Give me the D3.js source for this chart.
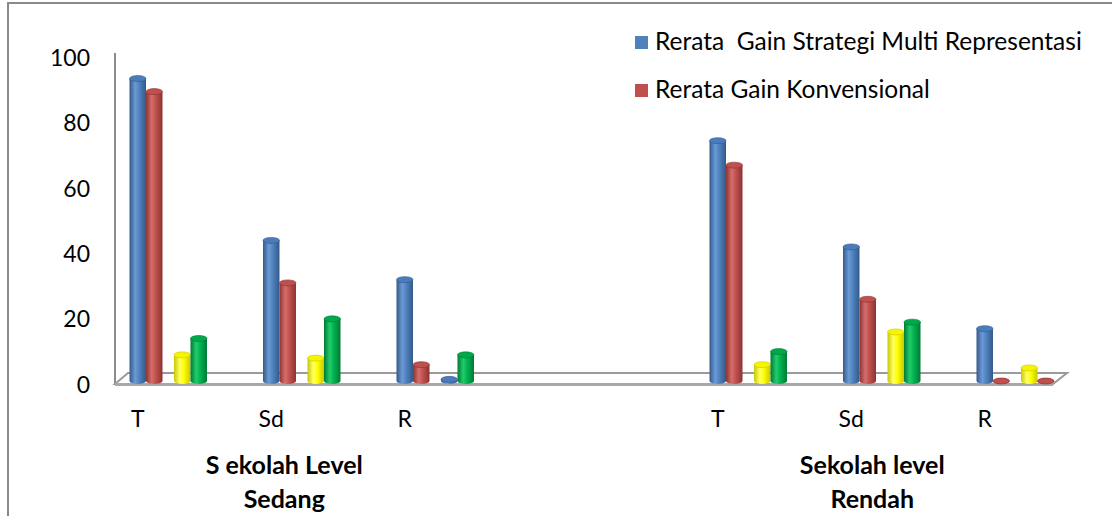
<!DOCTYPE html>
<html><head><meta charset="utf-8">
<script src="https://cdn.jsdelivr.net/npm/d3@7/dist/d3.min.js"></script>
<style>
html,body{margin:0;padding:0;background:#fff;}
svg{display:block;font-family:Lato,"Open Sans",sans-serif;}
text{white-space:pre;}
</style></head>
<body><svg id="c" width="1112" height="516"></svg>
<script>
// ---- data ----
const groups = [["S ekolah Level","Sedang"],["Sekolah level","Rendah"]];
const categories = ["T","Sd","R"];
const seriesNames = ["Rerata  Gain Strategi Multi Representasi","Rerata Gain Konvensional","Seri 3","Seri 4"];
// values per point: group1 T, Sd, R, group2 T, Sd, R
const blueVals   = [92.5, 43, 31, 73.5, 41, 16];
const redVals    = [88.5, 30, 5, 66, 25, 0];
const yellowVals = [8, 7, 0.5, 5, 15, 4];
const greenVals  = [13, 19, 8, 9, 18, 0];
const yTicks = [0,20,40,60,80,100];

// ---- styles / layout ----
const seriesVals = [blueVals, redVals, yellowVals, greenVals];
const palette = {
  blue:  {base:"#4F81BD", dark:"#34598a", light:"#6b9bd6", top:"#4a7cbc"},
  red:   {base:"#C0504D", dark:"#8c3331", light:"#d66e6b", top:"#c0504d"},
  yellow:{base:"#FFFF00", dark:"#c8c800", light:"#ffff66", top:"#f5f500"},
  green: {base:"#00B050", dark:"#007a36", light:"#22cc6a", top:"#00a84c"}
};
const seriesColor = ["blue","red","yellow","green"];
// per-point colour overrides seen in the original (pointIndex-seriesIndex)
const colorOverride = {"2-2":"blue", "5-3":"red"};
const slotOffset = [0, 16.5, 44.5, 61];
const groupLabelShift = [13, 21];
const barW = 16.5;
const depth = 3;

const svg = d3.select("#c");
const defs = svg.append("defs");
Object.entries(palette).forEach(([k,c])=>{
  const g = defs.append("linearGradient").attr("id","g-"+k).attr("x1","0").attr("x2","1").attr("y1","0").attr("y2","0");
  g.append("stop").attr("offset","0%").attr("stop-color",c.dark);
  g.append("stop").attr("offset","35%").attr("stop-color",c.light);
  g.append("stop").attr("offset","60%").attr("stop-color",c.base);
  g.append("stop").attr("offset","100%").attr("stop-color",c.dark);
});

// border
svg.append("path").attr("d","M8,516 L8,3 L1112,3").attr("fill","none").attr("stroke","#8a8a8a").attr("stroke-width",2);

// scales
const y = d3.scaleLinear().domain([0,100]).range([384,57]);
const gx = d3.scaleBand().domain(d3.range(groups.length)).range([71,1051.5]).paddingInner(0.3095).paddingOuter(0);
const cx = d3.scaleBand().domain(categories).range([0,gx.bandwidth()]);
const catCenter = (gi,c)=> gx(gi) + cx(c) + cx.bandwidth()/2;

// floor & axis line
svg.append("line").attr("x1",115).attr("x2",115).attr("y1",53).attr("y2",384).attr("stroke","#8c8c8c").attr("stroke-width",2);
svg.append("path").attr("d","M115,384 L1053,384 L1067,373 L128,373 Z")
  .attr("fill","none").attr("stroke","#9a9a9a").attr("stroke-width",2);
svg.append("line").attr("x1",115).attr("x2",1053).attr("y1",384.5).attr("y2",384.5).attr("stroke","#a8a8a8").attr("stroke-width",3);

// y axis labels
const ax = svg.append("g").attr("transform","translate(90,1)")
  .call(d3.axisLeft(y).tickValues(yTicks).tickSize(0).tickPadding(0));
ax.select(".domain").remove();
ax.selectAll("text").attr("font-size",23).attr("font-family","Lato, sans-serif").attr("fill","#000");

// bars
const points = [];
groups.forEach((g,gi)=>categories.forEach((c,ci)=>{
  const pi = gi*categories.length+ci;
  seriesVals.forEach((vals,si)=>{
    points.push({gi,ci,c,si,v:vals[pi],col:colorOverride[pi+"-"+si]||seriesColor[si]});
  });
}));
const bars = svg.append("g");
points.forEach(p=>{
  const x0 = catCenter(p.gi,p.c) + slotOffset[p.si] - barW/2;
  const yb = y(0) - depth;
  const yt = y(p.v) - depth;
  const pc = palette[p.col];
  const g = bars.append("g");
  const ry = 3;
  if (yb - yt > 0.5) {
    g.append("path")
      .attr("d",`M${x0},${yt} L${x0},${yb} A${barW/2},${ry} 0 0 0 ${x0+barW},${yb} L${x0+barW},${yt} Z`)
      .attr("fill",`url(#g-${p.col})`);
  } else {
    g.append("ellipse").attr("cx",x0+barW/2).attr("cy",yb).attr("rx",barW/2).attr("ry",ry)
      .attr("fill",pc.dark);
  }
  g.append("ellipse").attr("cx",x0+barW/2).attr("cy",yt).attr("rx",barW/2).attr("ry",ry)
    .attr("fill",pc.top).attr("stroke",pc.dark).attr("stroke-width",0.6);
});

// category labels
groups.forEach((g,gi)=>categories.forEach(c=>{
  svg.append("text").attr("x",catCenter(gi,c)).attr("y",427).attr("text-anchor","middle")
    .attr("font-size",23).attr("fill","#000").text(c);
}));
// group labels
groups.forEach((g,gi)=>{
  const cxm = gx(gi)+gx.bandwidth()/2 + groupLabelShift[gi];
  g.forEach((line,li)=>{
    svg.append("text").attr("x",cxm).attr("y",474+li*34).attr("text-anchor","middle")
      .attr("font-size",25).attr("font-weight","bold").attr("fill","#000").text(line);
  });
});

// legend (first two series only)
[0,1].forEach((si,i)=>{
  const ly = 36 + i*48;
  svg.append("rect").attr("x",635).attr("y",ly).attr("width",13).attr("height",13).attr("fill",palette[seriesColor[si]].base);
  svg.append("text").attr("x",655).attr("y",ly+14).attr("font-size",24.5).attr("fill","#000").text(seriesNames[si]);
});
</script></body></html>
